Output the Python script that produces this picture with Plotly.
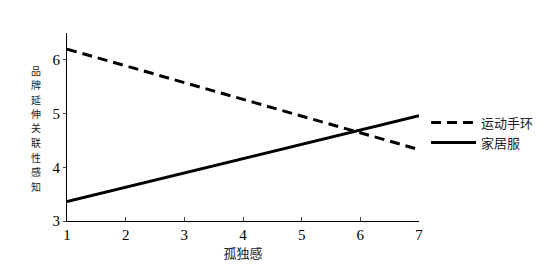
import plotly.graph_objects as go

x_vals = [1, 7]
series_names = ["运动手环", "家居服"]
band_vals = [6.2, 4.33]
home_vals = [3.36, 4.96]
x_ticks = [1, 2, 3, 4, 5, 6, 7]
y_ticks = [3, 4, 5, 6]
y_title = "品牌延伸关联性感知"
x_title = "孤独感"

num_font = "Liberation Serif, Times New Roman, serif"
cjk_font = "Noto Sans CJK SC, sans-serif"

fig = go.Figure()
fig.add_trace(go.Scatter(x=x_vals, y=band_vals, mode="lines", name=series_names[0],
                         line=dict(color="black", width=3, dash="10px,6px")))
fig.add_trace(go.Scatter(x=x_vals, y=home_vals, mode="lines", name=series_names[1],
                         line=dict(color="black", width=3)))

fig.update_layout(
    width=545, height=272,
    margin=dict(l=67, r=126, t=33, b=51, autoexpand=False),
    plot_bgcolor="white", paper_bgcolor="white",
    showlegend=True,
    legend=dict(x=1.02, y=0.47, xanchor="left", yanchor="middle",
                font=dict(family=cjk_font, size=13, color="#222"),
                bgcolor="rgba(0,0,0,0)", tracegroupgap=0, itemwidth=45),
    xaxis=dict(range=[1, 7], tickvals=x_ticks, ticks="inside", ticklen=4,
               showline=True, linecolor="black", linewidth=1, showgrid=False,
               zeroline=False, tickfont=dict(family=num_font, size=15, color="black"),
               title=dict(text=x_title, font=dict(family=cjk_font, size=13, color="#222"), standoff=4)),
    yaxis=dict(range=[3, 6.5], tickvals=y_ticks, ticks="outside", ticklen=3,
               showline=True, linecolor="black", linewidth=1, showgrid=False,
               zeroline=False, tickfont=dict(family=num_font, size=15, color="black")),
)

# vertical stacked y-axis title, one character per row
plot_h = 272 - 33 - 51
for i, ch in enumerate(y_title):
    y_px = 70 + i * 14.5
    fig.add_annotation(xref="paper", yref="paper", x=(36 - 67) / 352,
                       y=(272 - 51 - y_px) / plot_h,
                       text=ch, showarrow=False,
                       font=dict(family=cjk_font, size=10, color="#222"),
                       xanchor="center", yanchor="middle")

fig.write_html("out.html")
